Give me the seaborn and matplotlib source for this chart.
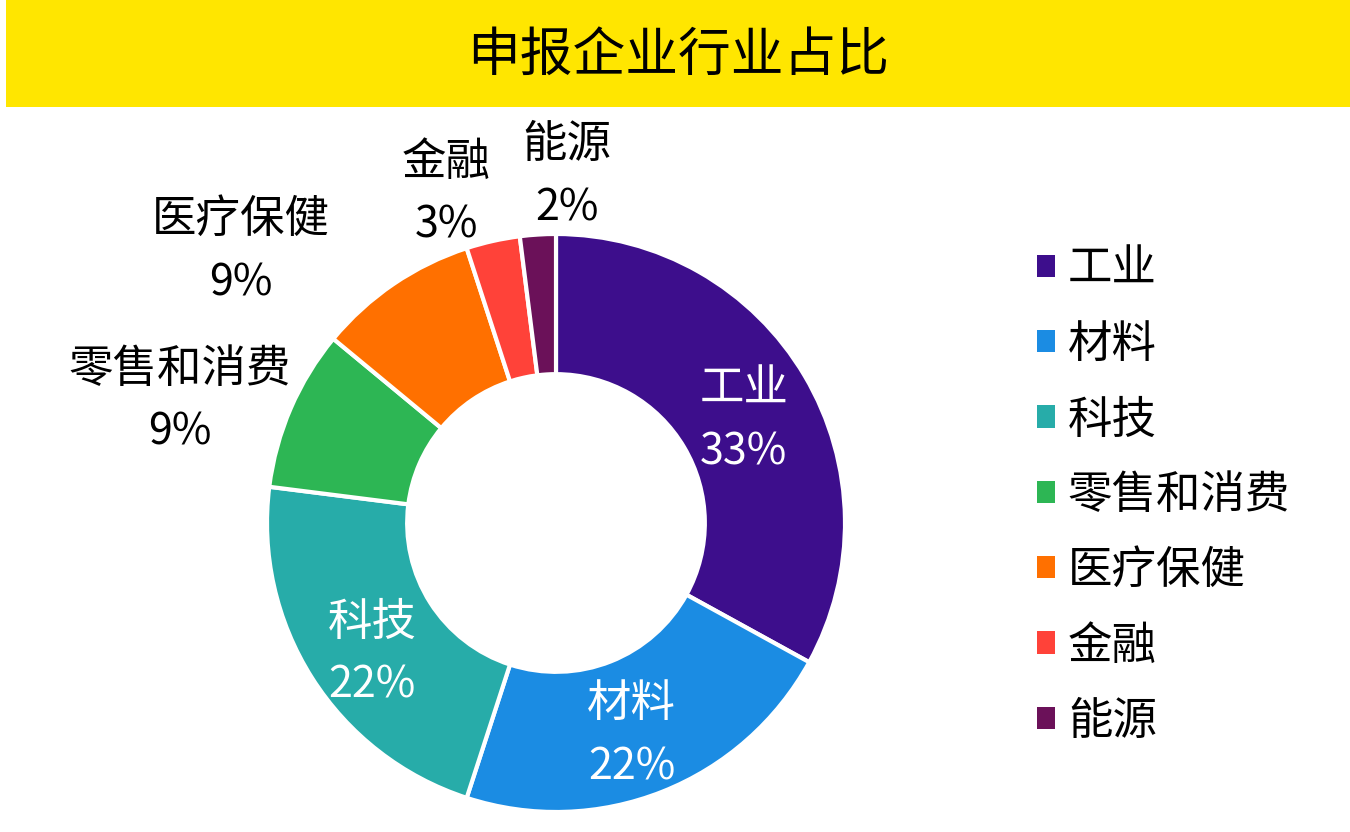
import numpy as np
import matplotlib
matplotlib.use("Agg")
import matplotlib.pyplot as plt
from matplotlib.patches import Rectangle
import seaborn as sns

sns.set_theme(style="white")
plt.rcParams["font.family"] = ["Noto Sans CJK SC", "DejaVu Sans"]
plt.rcParams["text.color"] = "black"

# data
industries = ["工业", "材料", "科技", "零售和消费", "医疗保健", "金融", "能源"]
shares = [33, 22, 22, 9, 9, 3, 2]
colors = ["#3D0E8C", "#1B8CE3", "#27ACA9", "#2DB654", "#FF7000", "#FF4239", "#6B1159"]
title = "申报企业行业占比"

# label placement: (radius factor, angle tweak in deg), per slice
label_pos = [(0.74, 2), (0.78, 2), (0.78, -3), (1.37, -5.4), (1.44, -15), (1.20, -5.8), (1.20, 5.4)]
inside = [True, True, True, False, False, False, False]

fig = plt.figure(figsize=(13.5, 8.32), dpi=100)
ax = fig.add_axes([0, 0, 1, 1])

cx, cy, R = 556, 832 - 523, 289
palette = sns.color_palette(colors)
wedges, _ = ax.pie(shares, colors=palette, startangle=90, counterclock=False,
                   center=(cx, cy), radius=R, frame=True,
                   wedgeprops=dict(width=R * 0.485, edgecolor="white", linewidth=3))
ax.set_xlim(0, 1350)
ax.set_ylim(0, 832)
ax.set_aspect("equal")
ax.axis("off")

total = sum(shares)
cum = np.cumsum([0] + shares[:-1])
for name, val, c0, (rf, tweak), ins in zip(industries, shares, cum, label_pos, inside):
    mid = (c0 + val / 2) / total * 360 + tweak
    th = np.deg2rad(mid)
    x = cx + rf * R * np.sin(th)
    y = cy + rf * R * np.cos(th)
    col = "white" if ins else "black"
    ax.text(x, y + 32, name, ha="center", va="center", fontsize=32, color=col)
    ax.text(x, y - 32, f"{val}%", ha="center", va="center", fontsize=31, color=col)

# title band
ax.add_patch(Rectangle((6, 832 - 107), 1344, 107, facecolor="#FFE600",
                       edgecolor="none", zorder=0))
ax.text(678, 832 - 55, title, ha="center", va="center", fontsize=38, color="black")

# legend
handles = [Rectangle((0, 0), 1, 1, facecolor=c, edgecolor="none") for c in palette]
leg = fig.legend(handles, industries, loc="upper left",
                 bbox_to_anchor=(1019 / 1350, 1 - 228 / 832),
                 frameon=False, fontsize=32, handlelength=0.4, handleheight=0.4,
                 handletextpad=0.3, labelspacing=0.66, borderaxespad=0,
                 labelcolor="black")

fig.savefig("out.png", dpi=100)
